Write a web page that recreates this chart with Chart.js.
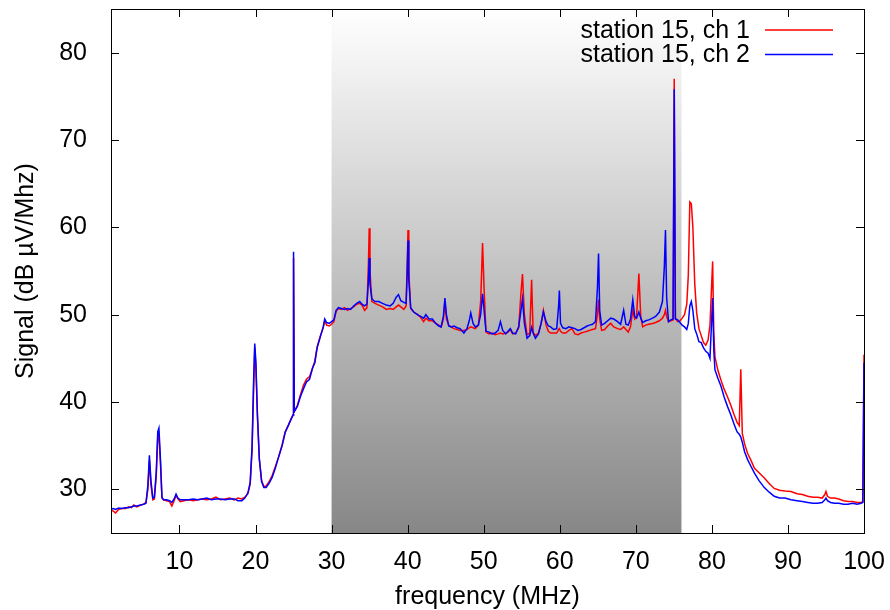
<!DOCTYPE html>
<html>
<head>
<meta charset="utf-8">
<script src="https://cdn.jsdelivr.net/npm/chart.js@4.4.1/dist/chart.umd.min.js"></script>
<style>
  html, body { margin: 0; padding: 0; background: #fff; }
</style>
</head>
<body>
<canvas id="chart" width="890" height="610"></canvas>
<script>
// frequency grid (MHz), denser around the narrow lines
const freq = [
  1.0, 1.3, 1.6, 2.0, 2.4, 2.9, 3.3, 3.7, 4.0, 4.4, 4.9, 5.3, 5.6, 5.85, 6.05, 6.25, 6.5, 6.7, 6.95, 7.15,
  7.3, 7.5, 7.7, 7.9, 8.3, 8.7, 9.0, 9.3, 9.55, 9.8, 10.1, 10.6, 11.2, 11.8, 12.4, 13.0, 13.6, 14.2, 14.8, 15.4,
  16.0, 16.6, 17.2, 17.7, 18.2, 18.6, 19.0, 19.3, 19.55, 19.75, 19.9, 20.05, 20.25, 20.5, 20.8, 21.1, 21.4, 21.8, 22.2, 22.6,
  23.0, 23.5, 23.9, 24.3, 24.7, 24.93, 25.0, 25.1, 25.5, 25.9, 26.3, 26.7, 27.1, 27.5, 27.8, 28.1, 28.5, 28.9, 29.1, 29.35,
  29.7, 30.0, 30.3, 30.6, 30.9, 31.3, 31.7, 32.1, 32.5, 32.9, 33.3, 33.7, 34.0, 34.35, 34.65, 34.85, 34.95, 35.05, 35.3, 35.7,
  36.2, 36.7, 37.2, 37.7, 38.1, 38.5, 38.8, 39.1, 39.5, 39.8, 39.95, 40.05, 40.15, 40.4, 40.8, 41.3, 41.7, 42.1, 42.4, 42.8,
  43.25, 43.7, 44.1, 44.4, 44.7, 44.9, 45.1, 45.4, 45.7, 46.1, 46.5, 46.9, 47.4, 47.8, 48.1, 48.3, 48.6, 48.9, 49.3, 49.6,
  49.85, 50.05, 50.3, 50.7, 51.1, 51.5, 51.9, 52.2, 52.5, 52.9, 53.2, 53.5, 53.8, 54.2, 54.6, 54.9, 55.1, 55.35, 55.7, 56.05,
  56.3, 56.5, 56.8, 57.2, 57.55, 57.85, 58.2, 58.5, 58.8, 59.2, 59.6, 59.85, 59.95, 60.1, 60.4, 60.8, 61.2, 61.6, 62.0, 62.4,
  62.8, 63.2, 63.6, 63.9, 64.3, 64.7, 64.95, 65.1, 65.25, 65.5, 65.9, 66.3, 66.7, 67.1, 67.6, 68.0, 68.4, 68.7, 69.0, 69.3,
  69.6, 69.85, 70.1, 70.4, 70.65, 70.9, 71.3, 71.7, 72.2, 72.6, 73.1, 73.5, 73.75, 73.9, 74.05, 74.3, 74.6, 74.9, 75.05, 75.2,
  75.5, 75.8, 76.1, 76.4, 76.7, 76.9, 77.1, 77.3, 77.5, 77.75, 78.0, 78.3, 78.6, 78.9, 79.2, 79.5, 79.75, 79.95, 80.1, 80.25,
  80.4, 80.8, 81.2, 81.6, 82.05, 82.5, 82.9, 83.3, 83.6, 83.8, 84.0, 84.3, 84.7, 85.1, 85.6, 86.2, 86.9, 87.5, 88.2, 88.9,
  89.6, 90.4, 91.2, 91.9, 92.6, 93.3, 93.9, 94.5, 94.85, 95.0, 95.2, 95.6, 96.1, 96.7, 97.3, 97.9, 98.5, 99.1, 99.6, 99.85,
  100.0
];

// station 15, ch 1 (dB uV/MHz)
const ch1 = [
  27.6, 27.5, 27.3, 27.7, 27.8, 27.8, 28.0, 27.9, 28.2, 28.0, 28.2, 28.3, 28.5, 30.0, 33.3, 30.5, 28.8, 28.9, 31.5, 36.0,
  36.2, 33.0, 29.0, 28.8, 28.7, 28.6, 28.1, 28.7, 29.3, 28.9, 28.6, 28.7, 28.8, 28.7, 28.8, 28.9, 28.8, 28.9, 29.1, 28.8,
  28.9, 29.0, 28.8, 29.0, 28.9, 29.1, 29.5, 30.6, 34.5, 41.5, 46.2, 44.0, 38.5, 33.5, 31.0, 30.3, 30.4, 30.9, 31.6, 32.6,
  33.6, 35.1, 36.6, 37.3, 38.1, 38.5, 56.5, 38.9, 39.6, 40.8, 41.9, 42.6, 42.9, 43.9, 44.7, 46.3, 47.5, 48.5, 49.3, 48.8,
  48.7, 48.9, 49.2, 50.4, 50.7, 50.6, 50.8, 50.5, 50.7, 50.9, 51.2, 51.3, 51.1, 50.5, 50.8, 56.0, 59.9, 55.0, 51.5, 51.3,
  51.1, 50.9, 50.6, 50.7, 50.6, 50.9, 51.1, 50.9, 50.6, 51.0, 56.0, 59.7, 55.0, 50.7, 50.3, 50.0, 49.7, 49.2, 49.6, 49.3,
  49.3, 49.0, 48.8, 48.6, 49.5, 51.5, 49.5, 48.8, 48.6, 48.4, 48.3, 48.2, 48.2, 48.3, 48.5, 48.6, 48.5, 48.4, 48.8, 51.5,
  58.2, 53.0, 48.0, 47.8, 47.9, 47.7, 47.8, 47.9, 47.8, 47.9, 48.0, 48.3, 47.8, 47.9, 48.5, 52.5, 54.65, 50.0, 47.7, 47.9,
  54.0, 48.0, 47.6, 47.9, 49.0, 50.5, 48.8, 48.1, 47.9, 47.9, 47.9, 48.3, 48.4, 48.1, 47.9, 47.9, 48.2, 48.4, 47.8, 47.7,
  47.9, 48.0, 48.1, 48.2, 48.3, 48.4, 50.0, 51.7, 49.5, 48.2, 48.3, 48.7, 49.0, 48.6, 48.4, 48.3, 48.6, 48.3, 48.0, 48.6,
  50.5, 49.5, 49.8, 54.7, 49.8, 48.6, 48.8, 48.9, 49.0, 49.1, 49.3, 49.6, 50.0, 50.5, 49.8, 49.2, 49.3, 49.4, 77.0, 49.6,
  49.2, 49.3, 49.6, 50.0, 51.2, 54.5, 62.9, 62.7, 60.0, 53.5, 50.2, 48.4, 47.6, 46.8, 46.5, 47.1, 48.8, 53.0, 56.1, 48.0,
  45.2, 43.6, 42.5, 41.5, 40.6, 39.6, 38.6, 37.7, 37.3, 43.75, 36.4, 35.2, 34.1, 33.4, 32.4, 31.9, 31.3, 30.7, 30.1, 29.9,
  29.8, 29.75, 29.5, 29.4, 29.2, 29.1, 29.1, 29.0, 29.4, 29.75, 29.2, 29.0, 29.0, 28.9, 28.7, 28.6, 28.6, 28.5, 28.5, 28.6,
  45.4
];

// station 15, ch 2 (dB uV/MHz)
const ch2 = [
  27.7, 27.8, 27.7, 27.85, 27.8, 27.9, 27.9, 28.0, 28.1, 28.1, 28.2, 28.3, 28.4, 30.5, 33.9, 31.0, 29.0, 29.1, 32.0, 36.6,
  37.0, 33.5, 29.1, 28.8, 28.8, 28.7, 28.5, 28.9, 29.45, 29.0, 28.8, 28.8, 28.8, 28.9, 28.8, 28.9, 29.0, 28.8, 28.9, 28.9,
  28.8, 28.9, 28.9, 28.7, 28.7, 29.0, 29.6, 30.8, 35.0, 42.5, 46.7, 44.5, 38.5, 33.5, 30.9, 30.2, 30.2, 30.7, 31.4, 32.4,
  33.6, 35.0, 36.5, 37.3, 38.1, 38.5, 57.2, 38.9, 39.5, 40.6, 41.5, 42.3, 42.6, 43.9, 44.5, 46.2, 47.4, 48.6, 49.5, 49.1,
  49.0, 49.2, 49.4, 50.5, 50.8, 50.7, 50.6, 50.7, 50.6, 51.0, 51.3, 51.5, 51.2, 51.0, 51.2, 54.0, 56.5, 53.5, 51.8, 51.5,
  51.5, 51.3, 51.1, 51.0, 51.3, 52.0, 52.3, 51.6, 51.4, 51.3, 55.0, 58.5, 54.0, 50.8, 50.3, 50.0, 49.8, 49.6, 50.0, 49.5,
  49.5, 49.0, 48.7, 48.6, 49.8, 51.9, 50.0, 48.7, 48.6, 48.7, 48.5, 48.4, 47.9, 48.4, 49.3, 50.2, 49.0, 48.6, 48.8, 50.0,
  52.4, 50.5, 48.1, 48.0, 47.8, 47.9, 48.2, 49.2, 48.2, 47.8, 48.1, 48.4, 47.9, 47.8, 48.6, 50.5, 51.8, 49.0, 47.3, 47.6,
  48.55, 47.9, 47.3, 47.8, 49.0, 50.3, 49.2, 48.7, 48.6, 48.3, 48.4, 51.0, 52.75, 49.0, 48.5, 48.4, 48.6, 48.5, 48.4, 48.2,
  48.3, 48.5, 48.7, 48.8, 48.9, 49.2, 53.0, 57.0, 50.5, 48.8, 49.0, 49.3, 49.6, 49.5, 49.2, 48.9, 50.5, 48.9, 48.8, 49.5,
  51.7, 49.8, 49.6, 50.3, 49.6, 49.1, 49.3, 49.4, 49.6, 49.8, 50.3, 51.5, 55.5, 59.7, 52.0, 49.2, 49.4, 49.5, 75.8, 49.5,
  49.4, 49.1, 48.8, 48.6, 48.3, 49.0, 51.0, 51.5, 50.5, 48.4, 47.8, 46.9, 46.8, 46.2, 45.8, 45.6, 45.0, 49.0, 51.9, 46.0,
  43.7, 42.7, 41.8, 40.6, 39.5, 38.5, 37.5, 36.6, 36.3, 36.0, 35.4, 34.3, 33.4, 32.7, 31.85, 31.0, 30.2, 29.7, 29.2, 29.0,
  29.0, 28.8, 28.7, 28.6, 28.5, 28.4, 28.4, 28.5, 28.8, 29.0, 28.7, 28.5, 28.4, 28.4, 28.3, 28.3, 28.4, 28.3, 28.4, 28.5,
  44.5
];

const seriesLabels = ["station 15, ch 1", "station 15, ch 2"];
const seriesColors = ["#ff0000", "#0000ff"];
const xTicks = [10, 20, 30, 40, 50, 60, 70, 80, 90, 100];
const yTicks = [30, 40, 50, 60, 70, 80];
const shadeBand = [30, 76]; // MHz, grey band behind the traces

const FONT = "'Liberation Sans', Arial, sans-serif";

// grey gradient band, drawn under the lines
const shadePlugin = {
  id: "shade",
  beforeDatasetsDraw(chart) {
    const { ctx, chartArea, scales } = chart;
    const x0 = scales.x.getPixelForValue(shadeBand[0]);
    const x1 = scales.x.getPixelForValue(shadeBand[1]);
    const g = ctx.createLinearGradient(0, chartArea.top, 0, chartArea.bottom);
    g.addColorStop(0, "#ffffff");
    g.addColorStop(1, "#878787");
    ctx.save();
    ctx.fillStyle = g;
    ctx.fillRect(x0, chartArea.top, x1 - x0, chartArea.bottom - chartArea.top);
    ctx.restore();
  }
};

// gnuplot style frame with inward ticks on all four sides, plus the legend
const framePlugin = {
  id: "frame",
  afterDraw(chart) {
    const { ctx, chartArea: a, scales } = chart;
    const tl = 8;
    ctx.save();
    ctx.strokeStyle = "#000";
    ctx.lineWidth = 1;
    ctx.beginPath();
    xTicks.forEach(v => {
      const px = Math.round(scales.x.getPixelForValue(v)) + 0.5;
      ctx.moveTo(px, a.bottom); ctx.lineTo(px, a.bottom - tl);
      ctx.moveTo(px, a.top); ctx.lineTo(px, a.top + tl);
    });
    yTicks.forEach(v => {
      const py = Math.round(scales.y.getPixelForValue(v)) + 0.5;
      ctx.moveTo(a.left, py); ctx.lineTo(a.left + tl, py);
      ctx.moveTo(a.right, py); ctx.lineTo(a.right - tl, py);
    });
    ctx.stroke();
    ctx.strokeRect(Math.round(a.left) + 0.5, Math.round(a.top) + 0.5,
      Math.round(a.right - a.left), Math.round(a.bottom - a.top));

    // legend: text right-aligned, line sample to the right
    ctx.font = "25px " + FONT;
    ctx.textAlign = "right";
    ctx.textBaseline = "middle";
    seriesLabels.forEach((lab, i) => {
      const y = 30 + i * 24.5;
      ctx.fillStyle = "#000";
      ctx.fillText(lab, 750, y + 1);
      ctx.strokeStyle = seriesColors[i];
      ctx.lineWidth = 1.5;
      ctx.beginPath();
      ctx.moveTo(765, y); ctx.lineTo(833, y);
      ctx.stroke();
    });
    ctx.restore();
  }
};

const pts = ys => freq.map((f, i) => ({ x: f, y: ys[i] }));

new Chart(document.getElementById("chart"), {
  type: "line",
  data: {
    datasets: [
      {
        label: seriesLabels[0],
        data: pts(ch1),
        borderColor: seriesColors[0],
        borderWidth: 1.5,
        pointRadius: 0,
        tension: 0,
        order: 2
      },
      {
        label: seriesLabels[1],
        data: pts(ch2),
        borderColor: seriesColors[1],
        borderWidth: 1.5,
        pointRadius: 0,
        tension: 0,
        order: 1
      }
    ]
  },
  options: {
    responsive: false,
    animation: false,
    devicePixelRatio: 1,
    layout: { padding: { top: 9, right: 26, left: 0, bottom: 0 } },
    plugins: {
      legend: { display: false },
      tooltip: { enabled: false }
    },
    scales: {
      x: {
        type: "linear",
        min: 1,
        max: 100,
        grid: { display: false },
        border: { display: false },
        afterBuildTicks: s => { s.ticks = xTicks.map(v => ({ value: v })); },
        afterFit: s => { s.height = 77; s.paddingLeft = 0; s.paddingRight = 0; },
        ticks: { color: "#000", padding: 6, maxRotation: 0, font: { family: FONT, size: 25 } },
        title: {
          display: true,
          text: "frequency (MHz)",
          color: "#000",
          padding: { top: 0, bottom: -2 },
          font: { family: FONT, size: 25 }
        }
      },
      y: {
        type: "linear",
        min: 25,
        max: 85,
        grid: { display: false },
        border: { display: false },
        afterBuildTicks: s => { s.ticks = yTicks.map(v => ({ value: v })); },
        afterFit: s => { s.width = 111; s.paddingTop = 0; s.paddingBottom = 0; },
        ticks: { color: "#000", padding: 16, font: { family: FONT, size: 25 } },
        title: {
          display: true,
          text: "Signal (dB µV/Mhz)",
          color: "#000",
          padding: { top: 11, bottom: 0 },
          font: { family: FONT, size: 25 }
        }
      }
    }
  },
  plugins: [shadePlugin, framePlugin]
});
</script>
</body>
</html>
